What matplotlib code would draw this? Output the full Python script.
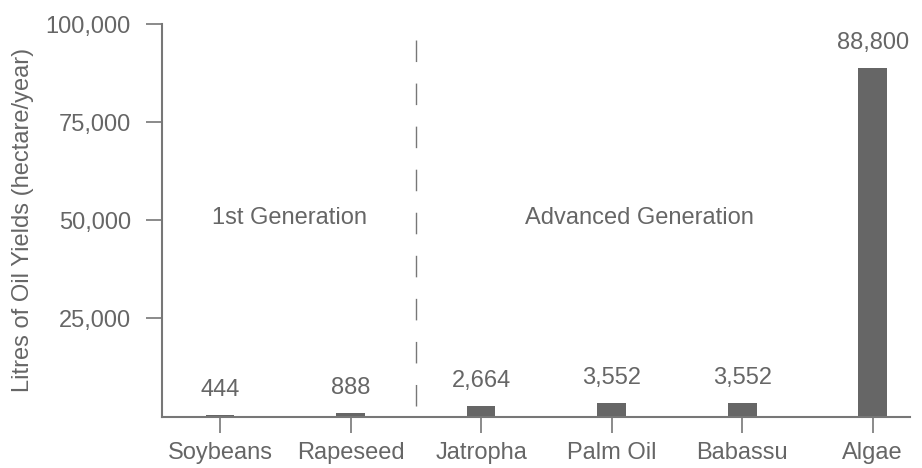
import matplotlib
matplotlib.use("Agg")
import matplotlib.pyplot as plt
from matplotlib.ticker import FuncFormatter

crops = ["Soybeans", "Rapeseed", "Jatropha", "Palm Oil", "Babassu", "Algae"]
oil_yields = [444, 888, 2664, 3552, 3552, 88800]
y_ticks = [25000, 50000, 75000, 100000]
group_labels = ["1st Generation", "Advanced Generation"]

GRAY = "#666666"
AXIS_GRAY = "#777777"
FS = 17

plt.rcParams["font.family"] = ["Liberation Sans", "DejaVu Sans"]

fig = plt.figure(figsize=(9.22, 4.68), dpi=100)
ax = fig.add_axes([162 / 922, 1 - 416.5 / 468, (910 - 162) / 922, (416.5 - 24.3) / 468])

x = list(range(len(crops)))
ax.bar(x, oil_yields, width=0.22, color=GRAY, zorder=2)

for xi, value in zip(x, oil_yields):
    ax.annotate(f"{value:,}", (xi, value), xytext=(0, 10), textcoords="offset points",
                ha="center", va="bottom", fontsize=FS, color=GRAY)

# split between first and advanced generation crops
ax.plot([1.5, 1.5], [2600, 96300], color=AXIS_GRAY, linewidth=1.0,
        linestyle=(0, (15.5, 15.5)), zorder=1)
ax.text(0.53, 50600, group_labels[0], ha="center", va="center", fontsize=FS, color=GRAY)
ax.text(3.21, 50600, group_labels[1], ha="center", va="center", fontsize=FS, color=GRAY)

ax.set_xlim(-0.445, 5.286)
ax.set_ylim(0, 100000)
ax.set_xticks(x)
ax.set_xticklabels(crops)
ax.set_yticks(y_ticks)
ax.yaxis.set_major_formatter(FuncFormatter(lambda v, _: f"{int(v):,}"))
ax.set_ylabel("Litres of Oil Yields (hectare/year)", fontsize=FS, color=GRAY, labelpad=8)

for side in ("top", "right"):
    ax.spines[side].set_visible(False)
for side in ("left", "bottom"):
    ax.spines[side].set_color(AXIS_GRAY)
    ax.spines[side].set_linewidth(1.5)
ax.tick_params(axis="both", colors=AXIS_GRAY, labelcolor=GRAY, labelsize=FS,
               length=11.5, width=1.2)
ax.tick_params(axis="y", pad=11)
ax.tick_params(axis="x", pad=7)

fig.savefig("out.png", dpi=100)
